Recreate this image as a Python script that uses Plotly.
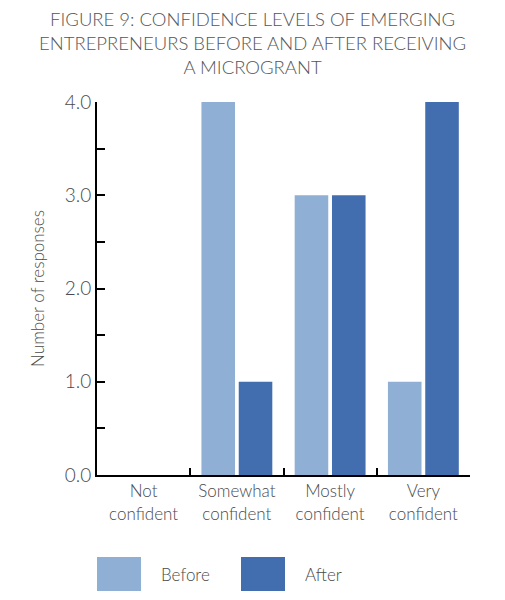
import plotly.graph_objects as go

categories = ["Not<br>confident", "Somewhat<br>confident", "Mostly<br>confident", "Very<br>confident"]
before = [0, 4, 3, 1]
after = [0, 1, 3, 4]
y_ticks = [0, 1, 2, 3, 4]
y_tick_labels = ["0.0", "1.0", "2.0", "3.0", "4.0"]

c_before = "#8FAFD5"
c_after = "#426EAF"
txt = "#4a4a4a"
font_family = "Lato, 'Open Sans', sans-serif"

fig = go.Figure()
fig.add_trace(go.Bar(x=categories, y=before, name="Before", marker_color=c_before, marker_line_width=0))
fig.add_trace(go.Bar(x=categories, y=after, name="After", marker_color=c_after, marker_line_width=0))

fig.update_layout(
    width=505, height=600,
    margin=dict(l=97, r=35, t=102, b=125),
    paper_bgcolor="white", plot_bgcolor="white",
    barmode="group", bargap=0.2, bargroupgap=0.1,
    showlegend=False,
    font=dict(family=font_family, color=txt, weight=300),
)
fig.add_annotation(
    text="FIGURE 9: CONFIDENCE LEVELS OF EMERGING<br>ENTREPRENEURS BEFORE AND AFTER RECEIVING<br>A MICROGRANT",
    xref="paper", yref="paper", x=(252 - 97) / 373, y=(475 - 6) / 373,
    xanchor="center", yanchor="top", showarrow=False, align="center",
    font=dict(size=18.5, color="#555555", family=font_family, weight=300),
)
fig.update_xaxes(
    range=[-0.5, 3.5],
    showline=True, linecolor="black", linewidth=2,
    ticks="inside", tickson="boundaries", ticklen=7, tickwidth=2, tickcolor="black",
    tickfont=dict(size=17, color=txt, weight=300),
    showgrid=False, zeroline=False,
)
fig.update_yaxes(
    range=[0, 4],
    tickvals=y_ticks, ticktext=y_tick_labels,
    showline=True, linecolor="black", linewidth=2,
    ticks="inside", ticklen=8, tickwidth=2, tickcolor="black",
    minor=dict(dtick=0.5, ticks="inside", ticklen=8, tickwidth=2, tickcolor="black", showgrid=False),
    tickfont=dict(size=19, color=txt, weight=300),
    title=dict(text="Number of responses", font=dict(size=17, color=txt, weight=300), standoff=16),
    showgrid=False, zeroline=False,
)

legend_items = [("Before", c_before, 97), ("After", c_after, 241)]
for name, col, x0 in legend_items:
    fig.add_shape(type="rect", xref="paper", yref="paper",
                  x0=(x0 - 97) / 373, x1=(x0 + 44 - 97) / 373,
                  y0=(475 - 591) / 373, y1=(475 - 557) / 373,
                  fillcolor=col, line_width=0)
    fig.add_annotation(text=name, xref="paper", yref="paper",
                       x=(x0 + 62 - 97) / 373, y=(475 - 574) / 373,
                       xanchor="left", yanchor="middle", showarrow=False,
                       font=dict(size=17, color=txt, weight=300))

fig.write_html("out.html")
